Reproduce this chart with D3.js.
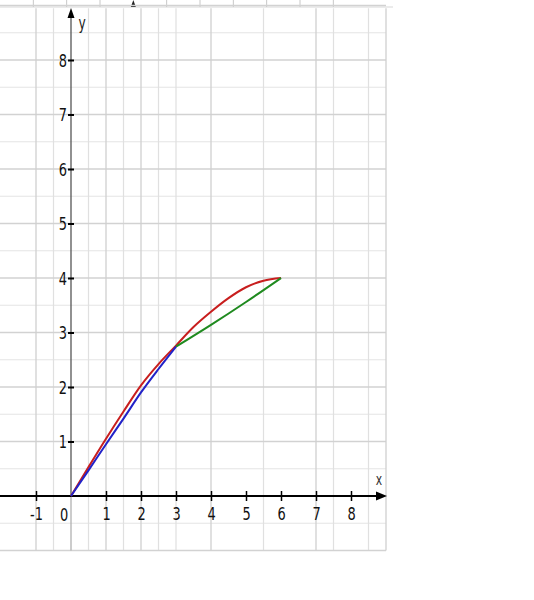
<!DOCTYPE html>
<html>
<head>
<meta charset="utf-8">
<script src="https://cdn.jsdelivr.net/npm/d3@7"></script>
<style>
  body { margin: 0; background: #fff; }
  svg { display: block; }
</style>
</head>
<body>
<div id="Area1"></div>
<script>
// x / y tick labels
var xTicks = [-1, 1, 2, 3, 4, 5, 6, 7, 8];
var yTicks = [1, 2, 3, 4, 5, 6, 7, 8];

// grid lines (in chart units) - the paper grid is a bit uneven
var vGridMajor = [-1, 1, 2, 4, 7, 9];
var vGridMinor = [-0.5, 0.5, 1.5, 2.5, 3, 5.5, 7.5, 8.5];
var hGridMajor = [-1, 1, 2, 3, 4, 5, 6, 7, 8, 9];
var hGridMinor = [-0.5, 0.5, 1.5, 2.5, 3.5, 4.5, 5.5, 6.5, 7.5, 8.5];

// curves
var redX   = [0, 0.5, 1, 1.5, 2, 2.5, 3, 3.5, 4, 4.5, 5, 5.5, 6];
var redY   = [0, 0.53, 1.05, 1.55, 2.03, 2.42, 2.76, 3.1, 3.38, 3.63, 3.83, 3.95, 4.0];
var blueX  = [0, 0.5, 1, 1.5, 2, 2.5, 3];
var blueY  = [0, 0.47, 0.95, 1.42, 1.9, 2.33, 2.74];
var greenX = [3, 4, 5, 6];
var greenY = [2.74, 3.14, 3.56, 4.0];

var width = 534, height = 600;
var narrow = "scale(0.72,1)";
var fontFam = "DejaVu Sans, sans-serif";

var svg = d3.select("#Area1")
    .append("svg")
    .attr("width", width)
    .attr("height", height);

var xscl = d3.scaleLinear().domain([0, 8]).range([71, 351]);
var yscl = d3.scaleLinear().domain([0, 8]).range([496, 60]);

var gx0 = -2.05, gx1 = 9, gy0 = -1, gy1 = 8.95;

// stray axis at the very top of the scan
var topScl = d3.scaleLinear().domain([0, 12]).range([0, 400]);
svg.append("line")
    .attr("x1", 0).attr("x2", 393)
    .attr("y1", 7).attr("y2", 7)
    .attr("stroke", "#d8d8d8").attr("stroke-width", 1.2);
svg.selectAll("line.toptick")
    .data([1, 2, 3, 5, 6, 7, 8, 9, 10])
    .enter().append("line")
    .attr("x1", d => topScl(d)).attr("x2", d => topScl(d))
    .attr("y1", 0).attr("y2", 7)
    .attr("stroke", "#c8c8c8");
svg.append("path")
    .attr("d", "M" + (topScl(4) - 2.5) + ",7L" + topScl(4) + ",0L" + (topScl(4) + 2.5) + ",7Z")
    .attr("fill", "#222");

// grid
var grid = svg.append("g");
grid.selectAll("line.hmin").data(hGridMinor).enter().append("line")
    .attr("x1", xscl(gx0)).attr("x2", xscl(gx1))
    .attr("y1", d => yscl(d)).attr("y2", d => yscl(d))
    .attr("stroke", "#e4e4e4").attr("stroke-width", 1.2);
grid.selectAll("line.vmin").data(vGridMinor).enter().append("line")
    .attr("x1", d => xscl(d)).attr("x2", d => xscl(d))
    .attr("y1", yscl(gy0)).attr("y2", yscl(gy1))
    .attr("stroke", "#e0e0e0").attr("stroke-width", 1.2);
grid.selectAll("line.hmaj").data(hGridMajor).enter().append("line")
    .attr("x1", xscl(gx0)).attr("x2", xscl(gx1))
    .attr("y1", d => yscl(d)).attr("y2", d => yscl(d))
    .attr("stroke", "#d2d2d2").attr("stroke-width", 1.3);
grid.selectAll("line.vmaj").data(vGridMajor).enter().append("line")
    .attr("x1", d => xscl(d)).attr("x2", d => xscl(d))
    .attr("y1", yscl(gy0)).attr("y2", yscl(gy1))
    .attr("stroke", "#d0d0d0").attr("stroke-width", 1.3);

// y axis line
svg.append("line")
    .attr("x1", xscl(0)).attr("x2", xscl(0))
    .attr("y1", yscl(gy0)).attr("y2", yscl(0))
    .attr("stroke", "#aaa").attr("stroke-width", 1.2);
svg.append("line")
    .attr("x1", xscl(0)).attr("x2", xscl(0))
    .attr("y1", yscl(0)).attr("y2", 16)
    .attr("stroke", "#555").attr("stroke-width", 1.3);
svg.append("path")
    .attr("d", "M" + (xscl(0) - 3.5) + ",18L" + xscl(0) + ",8L" + (xscl(0) + 3.5) + ",18Z")
    .attr("fill", "#000");

// y ticks
var yAxis = svg.append("g")
    .attr("transform", "translate(" + (xscl(0) + 3) + ",0)")
    .call(d3.axisLeft(yscl).tickValues(yTicks).tickSize(6).tickPadding(1));
yAxis.select(".domain").remove();
yAxis.selectAll("line").attr("stroke", "#000").attr("stroke-width", 2);
yAxis.selectAll("text")
    .attr("font-family", fontFam).attr("font-size", 18)
    .attr("fill", "#111").attr("dy", "0.36em")
    .attr("transform", "translate(-7,0) " + narrow + " translate(7,0)");

// x axis line + arrow
svg.append("line")
    .attr("x1", 0).attr("x2", xscl(gx1) - 6)
    .attr("y1", yscl(0)).attr("y2", yscl(0))
    .attr("stroke", "#000").attr("stroke-width", 2.2);
svg.append("path")
    .attr("d", "M" + (xscl(gx1) - 10) + "," + (yscl(0) - 4.5) + "L" + (xscl(gx1) + 1) + "," + yscl(0) + "L" + (xscl(gx1) - 10) + "," + (yscl(0) + 4.5) + "Z")
    .attr("fill", "#000");

var xAxis = svg.append("g")
    .attr("transform", "translate(0," + (yscl(0) - 5) + ")")
    .call(d3.axisBottom(xscl).tickValues(xTicks).tickSize(10).tickPadding(6)
      .tickFormat(d => String(d)));
xAxis.select(".domain").remove();
xAxis.selectAll("line").attr("stroke", "#000").attr("stroke-width", 1.5);
xAxis.selectAll("text")
    .attr("font-family", fontFam).attr("font-size", 18)
    .attr("fill", "#111").attr("transform", narrow);

svg.append("text")
    .attr("transform", "translate(" + (xscl(0) - 7) + "," + (yscl(0) + 25) + ") " + narrow)
    .attr("text-anchor", "middle")
    .attr("font-family", fontFam)
    .attr("font-size", 18).attr("fill", "#111")
    .text("0");

// axis names
svg.append("text")
    .attr("transform", "translate(" + (xscl(0) + 11) + ",29) " + narrow)
    .attr("text-anchor", "middle")
    .attr("font-family", fontFam)
    .attr("font-size", 17).attr("fill", "#222")
    .text("y");
svg.append("text")
    .attr("transform", "translate(" + xscl(8.8) + "," + (yscl(0) - 11) + ") " + narrow)
    .attr("text-anchor", "middle")
    .attr("font-family", fontFam)
    .attr("font-size", 15).attr("fill", "#333")
    .text("x");

// curves
var myline = d3.line()
    .x(function(d) { return xscl(d.x); })
    .y(function(d) { return yscl(d.y); })
    .curve(d3.curveMonotoneX);

function toXY(xs, ys) {
  var xy = [];
  for (var i = 0; i < xs.length; i++) {
    xy.push({x: xs[i], y: ys[i]});
  }
  return xy;
}

[[redX, redY, "#c81e1e"], [greenX, greenY, "#1f8a1f"], [blueX, blueY, "#2222c8"]].forEach(function(s) {
  svg.append("path")
      .attr("d", myline(toXY(s[0], s[1])))
      .style("fill", "none")
      .style("stroke", s[2])
      .style("stroke-width", 2);
});
</script>
</body>
</html>
